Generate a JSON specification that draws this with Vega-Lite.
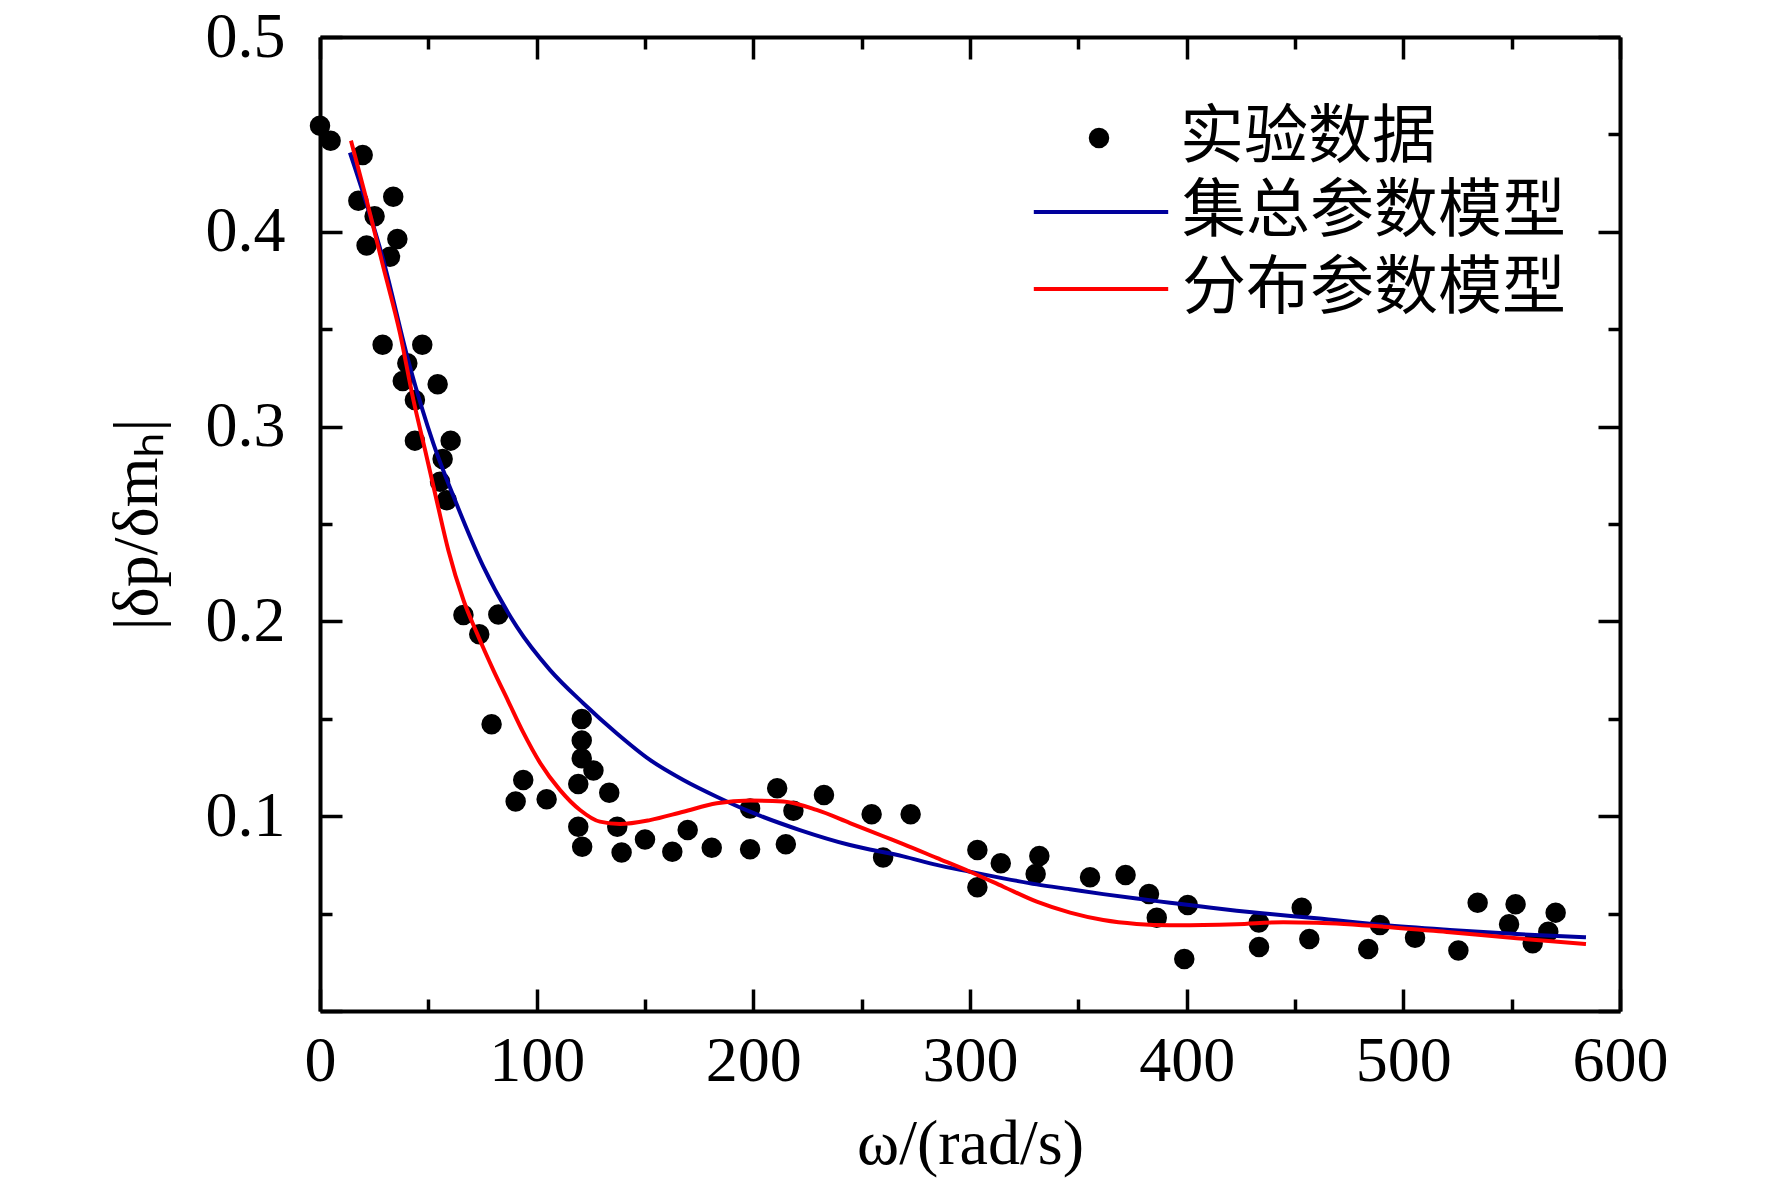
{
  "$schema": "https://vega.github.io/schema/vega-lite/v6.json",
  "width": 1300,
  "height": 974,
  "autosize": {"type": "none"},
  "padding": {"left": 320, "top": 37, "right": 152, "bottom": 170},
  "background": "white",
  "config": {"view": {"stroke": null}},
  "datasets": {
    "points": [
      {"w": 0, "v": 0.4545}, {"w": 4.9, "v": 0.4468}, {"w": 19.7, "v": 0.4394},
      {"w": 17.7, "v": 0.416}, {"w": 33.8, "v": 0.418}, {"w": 25.2, "v": 0.408},
      {"w": 35.7, "v": 0.3963}, {"w": 21.5, "v": 0.393}, {"w": 32.3, "v": 0.3872},
      {"w": 28.9, "v": 0.342}, {"w": 47.2, "v": 0.342}, {"w": 40.3, "v": 0.3325},
      {"w": 38.2, "v": 0.3234}, {"w": 54.3, "v": 0.3217}, {"w": 43.8, "v": 0.3137},
      {"w": 43.8, "v": 0.2928}, {"w": 60.3, "v": 0.2928}, {"w": 56.6, "v": 0.2834},
      {"w": 55.4, "v": 0.2717}, {"w": 58.5, "v": 0.2622},
      {"w": 66.2, "v": 0.2033}, {"w": 82.3, "v": 0.2036}, {"w": 73.5, "v": 0.1934},
      {"w": 79.2, "v": 0.1472}, {"w": 93.8, "v": 0.1186}, {"w": 90.3, "v": 0.1075},
      {"w": 104.6, "v": 0.1087}, {"w": 120.8, "v": 0.1499}, {"w": 120.8, "v": 0.1388},
      {"w": 120.8, "v": 0.1297}, {"w": 126.2, "v": 0.1234}, {"w": 119.2, "v": 0.1165},
      {"w": 133.5, "v": 0.1121}, {"w": 119.2, "v": 0.0946}, {"w": 121, "v": 0.0843},
      {"w": 137.2, "v": 0.0946}, {"w": 139.2, "v": 0.0814}, {"w": 150, "v": 0.0881},
      {"w": 162.6, "v": 0.0818}, {"w": 169.7, "v": 0.0929}, {"w": 180.8, "v": 0.0838},
      {"w": 198.5, "v": 0.083}, {"w": 198.5, "v": 0.104}, {"w": 211, "v": 0.1143},
      {"w": 218.5, "v": 0.1028}, {"w": 215, "v": 0.0856}, {"w": 232.6, "v": 0.1109},
      {"w": 254.6, "v": 0.101}, {"w": 259.9, "v": 0.0788}, {"w": 272.6, "v": 0.101},
      {"w": 303.4, "v": 0.0826}, {"w": 303.4, "v": 0.0635}, {"w": 314.2, "v": 0.0758},
      {"w": 332, "v": 0.0796}, {"w": 330.3, "v": 0.0703}, {"w": 355.4, "v": 0.0686},
      {"w": 371.8, "v": 0.0698}, {"w": 382.6, "v": 0.06}, {"w": 386.2, "v": 0.0479},
      {"w": 400.5, "v": 0.0544}, {"w": 398.9, "v": 0.0267}, {"w": 433.3, "v": 0.0454},
      {"w": 433.4, "v": 0.0329}, {"w": 453.1, "v": 0.053}, {"w": 456.6, "v": 0.037},
      {"w": 489.2, "v": 0.0441}, {"w": 483.8, "v": 0.0318}, {"w": 505.4, "v": 0.0376},
      {"w": 525.4, "v": 0.031}, {"w": 534.3, "v": 0.0556}, {"w": 551.8, "v": 0.0548},
      {"w": 548.8, "v": 0.0445}, {"w": 559.7, "v": 0.0348}, {"w": 570.3, "v": 0.0505},
      {"w": 566.9, "v": 0.0407}
    ],
    "curves": [
      {"model": "集总参数模型", "w": 13.8, "v": 0.4406},
      {"model": "集总参数模型", "w": 29.2, "v": 0.3855},
      {"model": "集总参数模型", "w": 41.5, "v": 0.3307},
      {"model": "集总参数模型", "w": 52.3, "v": 0.2914},
      {"model": "集总参数模型", "w": 62.3, "v": 0.2623},
      {"model": "集总参数模型", "w": 75.4, "v": 0.2281},
      {"model": "集总参数模型", "w": 90.8, "v": 0.1973},
      {"model": "集总参数模型", "w": 106.2, "v": 0.175},
      {"model": "集总参数模型", "w": 121.5, "v": 0.158},
      {"model": "集总参数模型", "w": 136.9, "v": 0.1426},
      {"model": "集总参数模型", "w": 152.3, "v": 0.1289},
      {"model": "集总参数模型", "w": 167.7, "v": 0.1186},
      {"model": "集总参数模型", "w": 183.1, "v": 0.11},
      {"model": "集总参数模型", "w": 198.5, "v": 0.1023},
      {"model": "集总参数模型", "w": 221.5, "v": 0.0929},
      {"model": "集总参数模型", "w": 244.6, "v": 0.0852},
      {"model": "集总参数模型", "w": 269.2, "v": 0.0794},
      {"model": "集总参数模型", "w": 284.6, "v": 0.075},
      {"model": "集总参数模型", "w": 300, "v": 0.0715},
      {"model": "集总参数模型", "w": 315.4, "v": 0.0681},
      {"model": "集总参数模型", "w": 330.8, "v": 0.065},
      {"model": "集总参数模型", "w": 346.2, "v": 0.0625},
      {"model": "集总参数模型", "w": 361.5, "v": 0.06},
      {"model": "集总参数模型", "w": 376.9, "v": 0.0577},
      {"model": "集总参数模型", "w": 392.3, "v": 0.0556},
      {"model": "集总参数模型", "w": 407.7, "v": 0.0535},
      {"model": "集总参数模型", "w": 423.1, "v": 0.0515},
      {"model": "集总参数模型", "w": 438.5, "v": 0.0498},
      {"model": "集总参数模型", "w": 460, "v": 0.0476},
      {"model": "集总参数模型", "w": 490.8, "v": 0.0441},
      {"model": "集总参数模型", "w": 521.5, "v": 0.0416},
      {"model": "集总参数模型", "w": 552.3, "v": 0.0395},
      {"model": "集总参数模型", "w": 584.3, "v": 0.0378},
      {"model": "分布参数模型", "w": 14.3, "v": 0.4468},
      {"model": "分布参数模型", "w": 21.5, "v": 0.4163},
      {"model": "分布参数模型", "w": 29.2, "v": 0.382},
      {"model": "分布参数模型", "w": 36.9, "v": 0.348},
      {"model": "分布参数模型", "w": 43.1, "v": 0.3137},
      {"model": "分布参数模型", "w": 48.5, "v": 0.288},
      {"model": "分布参数模型", "w": 53.8, "v": 0.2623},
      {"model": "分布参数模型", "w": 59.2, "v": 0.2367},
      {"model": "分布参数模型", "w": 66.2, "v": 0.211},
      {"model": "分布参数模型", "w": 72.6, "v": 0.1935},
      {"model": "分布参数模型", "w": 80, "v": 0.175},
      {"model": "分布参数模型", "w": 86.9, "v": 0.159},
      {"model": "分布参数模型", "w": 93.8, "v": 0.143},
      {"model": "分布参数模型", "w": 101.5, "v": 0.1275},
      {"model": "分布参数模型", "w": 110.8, "v": 0.1134},
      {"model": "分布参数模型", "w": 120, "v": 0.1032},
      {"model": "分布参数模型", "w": 129.2, "v": 0.0972},
      {"model": "分布参数模型", "w": 138.5, "v": 0.096},
      {"model": "分布参数模型", "w": 152.3, "v": 0.098},
      {"model": "分布参数模型", "w": 167.7, "v": 0.1023},
      {"model": "分布参数模型", "w": 183.1, "v": 0.1066},
      {"model": "分布参数模型", "w": 198.5, "v": 0.108},
      {"model": "分布参数模型", "w": 213.8, "v": 0.1075},
      {"model": "分布参数模型", "w": 229.2, "v": 0.1032},
      {"model": "分布参数模型", "w": 244.6, "v": 0.0965},
      {"model": "分布参数模型", "w": 260, "v": 0.0897},
      {"model": "分布参数模型", "w": 269.2, "v": 0.0857},
      {"model": "分布参数模型", "w": 284.6, "v": 0.0786},
      {"model": "分布参数模型", "w": 300, "v": 0.0715},
      {"model": "分布参数模型", "w": 315.4, "v": 0.0638},
      {"model": "分布参数模型", "w": 330.8, "v": 0.0561},
      {"model": "分布参数模型", "w": 346.2, "v": 0.0505},
      {"model": "分布参数模型", "w": 361.5, "v": 0.0467},
      {"model": "分布参数模型", "w": 376.9, "v": 0.0447},
      {"model": "分布参数模型", "w": 392.3, "v": 0.044},
      {"model": "分布参数模型", "w": 407.7, "v": 0.0441},
      {"model": "分布参数模型", "w": 423.1, "v": 0.0445},
      {"model": "分布参数模型", "w": 444.6, "v": 0.0456},
      {"model": "分布参数模型", "w": 460, "v": 0.0453},
      {"model": "分布参数模型", "w": 490.8, "v": 0.0433},
      {"model": "分布参数模型", "w": 521.5, "v": 0.0404},
      {"model": "分布参数模型", "w": 552.3, "v": 0.0373},
      {"model": "分布参数模型", "w": 584.3, "v": 0.0344}
    ]
  },
  "layer": [
    {
      "data": {"name": "points"},
      "mark": {"type": "point", "filled": true, "color": "black", "opacity": 1, "size": 420, "strokeWidth": 0},
      "encoding": {
        "x": {
          "field": "w", "type": "quantitative",
          "scale": {"domain": [0, 600], "nice": false, "zero": false},
          "axis": {
            "orient": "bottom",
            "title": "ω/(rad/s)",
            "titleFont": "Liberation Serif", "titleFontSize": 64, "titleFontWeight": "normal", "titleColor": "black",
            "titlePadding": 9,
            "values": [0, 50, 100, 150, 200, 250, 300, 350, 400, 450, 500, 550, 600],
            "labelExpr": "datum.value % 100 === 0 ? datum.label : ''",
            "labelFont": "Liberation Serif", "labelFontSize": 64, "labelColor": "black",
            "labelOverlap": false, "labelFlush": false, "labelPadding": 40,
            "tickSize": {"condition": {"test": "datum.value % 100 === 0", "value": -22}, "value": -12},
            "tickWidth": 3.5, "tickColor": "black",
            "domainColor": "black", "domainWidth": 4, "grid": false
          }
        },
        "y": {
          "field": "v", "type": "quantitative",
          "scale": {"domain": [0, 0.5], "nice": false},
          "axis": {
            "orient": "left",
            "title": "|δp/δmₕ|",
            "titleFont": "Liberation Serif", "titleFontSize": 64, "titleFontWeight": "normal", "titleColor": "black",
            "titlePadding": 36,
            "values": [0, 0.05, 0.1, 0.15, 0.2, 0.25, 0.3, 0.35, 0.4, 0.45, 0.5],
            "labelExpr": "round(datum.value * 100) % 10 === 0 && datum.value > 0 ? format(datum.value, '.1f') : ''",
            "labelFont": "Liberation Serif", "labelFontSize": 64, "labelColor": "black",
            "labelOverlap": false, "labelFlush": false, "labelPadding": 57,
            "tickSize": {"condition": {"test": "round(datum.value * 100) % 10 === 0", "value": -22}, "value": -12},
            "tickWidth": 3.5, "tickColor": "black",
            "domainColor": "black", "domainWidth": 4, "grid": false
          }
        },
        "shape": {
          "datum": "实验数据",
          "scale": {"domain": ["实验数据"], "range": ["circle"]},
          "legend": {
            "title": null, "orient": "none", "legendX": 747, "legendY": 69, "padding": 0,
            "symbolSize": 420, "symbolFillColor": "black", "symbolStrokeWidth": 0,
            "labelFont": "Noto Sans CJK SC", "labelFontSize": 64, "labelColor": "black",
            "labelOffset": 49, "labelLimit": 0
          }
        }
      }
    },
    {
      "data": {"name": "curves"},
      "mark": {"type": "line", "strokeWidth": 4, "interpolate": "monotone"},
      "encoding": {
        "x": {
          "field": "w", "type": "quantitative",
          "axis": {
            "orient": "top", "title": null, "labels": false,
            "values": [0, 50, 100, 150, 200, 250, 300, 350, 400, 450, 500, 550, 600],
            "tickSize": {"condition": {"test": "datum.value % 100 === 0", "value": -22}, "value": -12},
            "tickWidth": 3.5, "tickColor": "black",
            "domainColor": "black", "domainWidth": 4, "grid": false
          }
        },
        "y": {
          "field": "v", "type": "quantitative",
          "axis": {
            "orient": "right", "title": null, "labels": false,
            "values": [0, 0.05, 0.1, 0.15, 0.2, 0.25, 0.3, 0.35, 0.4, 0.45, 0.5],
            "tickSize": {"condition": {"test": "round(datum.value * 100) % 10 === 0", "value": -22}, "value": -12},
            "tickWidth": 3.5, "tickColor": "black",
            "domainColor": "black", "domainWidth": 4, "grid": false
          }
        },
        "color": {
          "field": "model", "type": "nominal",
          "scale": {"domain": ["集总参数模型", "分布参数模型"], "range": ["#00009c", "#ff0000"]},
          "legend": {
            "title": null, "orient": "none", "legendX": 747, "legendY": 141, "padding": 0,
            "symbolType": "M-2.1,0H2.1", "symbolSize": 4096, "symbolStrokeWidth": 4,
            "labelFont": "Noto Sans CJK SC", "labelFontSize": 64, "labelColor": "black",
            "labelOffset": 47, "labelLimit": 0, "rowPadding": 11
          }
        }
      }
    }
  ],
  "resolve": {"axis": {"x": "independent", "y": "independent"}}
}
